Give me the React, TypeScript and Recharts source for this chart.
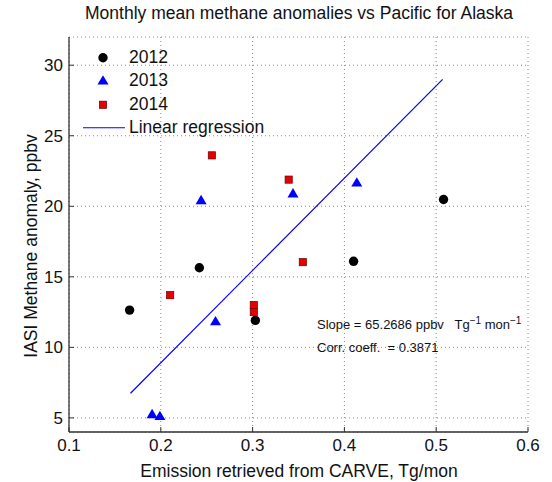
import React from 'react';
import { ScatterChart, Scatter, XAxis, YAxis, CartesianGrid } from 'recharts';

// values
const x2012 = [0.166, 0.242, 0.303, 0.41, 0.508];
const y2012 = [12.64, 15.64, 11.91, 16.1, 20.48];
const x2013 = [0.1905, 0.199, 0.2439, 0.2596, 0.344, 0.4135];
const y2013 = [5.25, 5.12, 20.42, 11.84, 20.9, 21.67];
const x2014 = [0.2102, 0.2556, 0.3013, 0.3013, 0.3393, 0.3547];
const y2014 = [13.7, 23.61, 13.0, 12.5, 21.89, 16.04];
const xFit = [0.167, 0.507];
const yFit = [6.75, 29.0];

const xTicks = [0.1, 0.2, 0.3, 0.4, 0.5, 0.6];
const yTicks = [5, 10, 15, 20, 25, 30];

const zip = (xs: number[], ys: number[]) => xs.map((x, i) => ({ x, y: ys[i] }));
const d2012 = zip(x2012, y2012);
const d2013 = zip(x2013, y2013);
const d2014 = zip(x2014, y2014);
const dFit = zip(xFit, yFit);

const FONT = '"Liberation Sans", Arial, Helvetica, sans-serif';
const FRAME = '#333';
const BLUE = '#0000ff';
const RED = '#e80000';
const M = 7;
const TICK = 5;

const Dot = ({ cx, cy }: any) => <circle cx={cx} cy={cy} r={4.7} fill="#000" />;
const Tri = ({ cx, cy }: any) => (
  <polygon points={`${cx},${cy - 5.5} ${cx - 5.5},${cy + 3.8} ${cx + 5.5},${cy + 3.8}`} fill={BLUE} />
);
const Sq = ({ cx, cy }: any) => (
  <rect x={cx - 3.6} y={cy - 3.6} width={7.2} height={7.2} fill={RED} stroke="#600" strokeWidth={0.7} />
);

const BottomTick = ({ x, y, payload }: any) => (
  <g>
    <line x1={x} x2={x} y1={y - M} y2={y - M - TICK} stroke={FRAME} />
    <text x={x} y={y} dy="0.71em" textAnchor="middle" fontSize={17} fill="#111" fontFamily={FONT}>
      {payload.value}
    </text>
  </g>
);
const LeftTick = ({ x, y, payload }: any) => (
  <g>
    <line x1={x + M} x2={x + M + TICK} y1={y} y2={y} stroke={FRAME} />
    <text x={x + 1} y={y} dy="0.36em" textAnchor="end" fontSize={17} fill="#111" fontFamily={FONT}>
      {payload.value}
    </text>
  </g>
);
const TopTick = ({ x, y }: any) => <line x1={x} x2={x} y1={y + M} y2={y + M + TICK} stroke={FRAME} />;
const RightTick = ({ x, y }: any) => <line x1={x - M} x2={x - M - TICK} y1={y} y2={y} stroke={FRAME} />;

const Nothing = () => <g />;

function LegendBox() {
  const row = { display: 'flex', alignItems: 'center', height: 23.5 } as const;
  const icon = (child: React.ReactNode) => (
    <svg width={48} height={23.5} style={{ display: 'block' }}>{child}</svg>
  );
  return (
    <div style={{ position: 'absolute', left: 80, top: 45.5, fontSize: 17.5, color: '#111' }}>
      <div style={row}>{icon(<Dot cx={23} cy={11.75} />)}<span style={{ marginLeft: 1 }}>2012</span></div>
      <div style={row}>{icon(<Tri cx={23} cy={11.75} />)}<span style={{ marginLeft: 1 }}>2013</span></div>
      <div style={row}>{icon(<Sq cx={23} cy={11.75} />)}<span style={{ marginLeft: 1 }}>2014</span></div>
      <div style={row}>
        {icon(<line x1={3} x2={45} y1={11.75} y2={11.75} stroke={BLUE} strokeWidth={1.2} />)}
        <span style={{ marginLeft: 1 }}>Linear regression</span>
      </div>
    </div>
  );
}

export default function App() {
  return (
    <div style={{ position: 'absolute', left: 0, top: 0, width: 552, height: 482, background: '#fff', fontFamily: FONT }}>
      <div style={{ position: 'absolute', left: 0, width: 598, top: 3, textAlign: 'center', fontSize: 17.5, color: '#111' }}>
        Monthly mean methane anomalies vs Pacific for Alaska
      </div>
      <ScatterChart width={552} height={482} margin={{ top: 37, right: 24, left: 0, bottom: 0 }}>
        <CartesianGrid stroke="#888" strokeDasharray="1 3" />
        <XAxis
          type="number" dataKey="x" domain={[0.1, 0.6]} ticks={xTicks} interval={0}
          height={50} tickSize={0} tickMargin={M} tick={<BottomTick />} axisLine={{ stroke: FRAME, strokeWidth: 1.3 }}
          allowDataOverflow
        />
        <XAxis
          xAxisId="top" orientation="top" type="number" dataKey="x" domain={[0.1, 0.6]} ticks={xTicks} interval={0}
          height={0} tickSize={0} tickMargin={M} tick={<TopTick />} axisLine={{ stroke: FRAME, strokeWidth: 1.3 }}
          allowDataOverflow
        />
        <YAxis
          type="number" dataKey="y" domain={[4, 32]} ticks={yTicks} interval={0}
          width={69} tickSize={0} tickMargin={M} tick={<LeftTick />} axisLine={{ stroke: FRAME, strokeWidth: 1.3 }}
          allowDataOverflow
        />
        <YAxis
          yAxisId="right" orientation="right" type="number" dataKey="y" domain={[4, 32]} ticks={yTicks} interval={0}
          width={0} tickSize={0} tickMargin={M} tick={<RightTick />} axisLine={{ stroke: FRAME, strokeWidth: 1.3 }}
          allowDataOverflow
        />
        <Scatter name="Linear regression" data={dFit} line={{ stroke: BLUE, strokeWidth: 1.2 }} shape={<Nothing />} isAnimationActive={false} />
        <Scatter name="2012" data={d2012} shape={<Dot />} isAnimationActive={false} />
        <Scatter name="2013" data={d2013} shape={<Tri />} isAnimationActive={false} />
        <Scatter name="2014" data={d2014} shape={<Sq />} isAnimationActive={false} />
      </ScatterChart>
      <LegendBox />
      <div
        style={{
          position: 'absolute', left: 31, top: 246, transform: 'translate(-50%, -50%) rotate(-90deg)',
          whiteSpace: 'nowrap', fontSize: 17.5, color: '#111',
        }}
      >
        IASI Methane anomaly, ppbv
      </div>
      <div style={{ position: 'absolute', left: 0, width: 598, top: 461, textAlign: 'center', fontSize: 17.5, color: '#111' }}>
        Emission retrieved from CARVE, Tg/mon
      </div>
      <div style={{ position: 'absolute', left: 317, top: 313, fontSize: 13, color: '#111', whiteSpace: 'nowrap', lineHeight: '16px' }}>
        Slope = 65.2686 ppbv&nbsp;&nbsp; Tg<sup style={{ fontSize: 10 }}>−1</sup> mon<sup style={{ fontSize: 10 }}>−1</sup>
      </div>
      <div style={{ position: 'absolute', left: 317, top: 340, fontSize: 13, color: '#111', whiteSpace: 'nowrap', lineHeight: '16px' }}>
        Corr. coeff.&nbsp; = 0.3871
      </div>
    </div>
  );
}
